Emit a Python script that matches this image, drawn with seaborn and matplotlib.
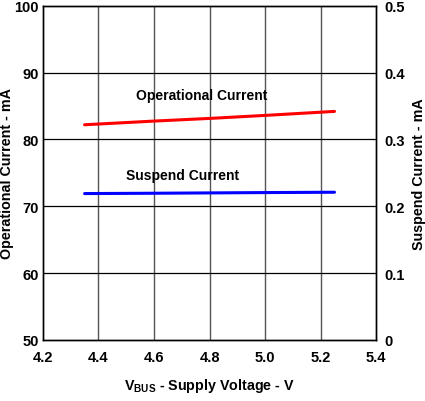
import matplotlib
matplotlib.use("Agg")
import matplotlib.pyplot as plt
import seaborn as sns
import pandas as pd

# supply voltage (V)
vbus = [4.35, 4.6, 4.8, 5.0, 5.25]
# operational current (mA), left axis
op_current = [82.2, 82.75, 83.15, 83.6, 84.2]
# suspend current (mA), right axis
susp_current = [0.219, 0.2195, 0.220, 0.2205, 0.221]

x_ticks = [4.2, 4.4, 4.6, 4.8, 5.0, 5.2, 5.4]
left_ticks = [50, 60, 70, 80, 90, 100]
right_ticks = [0, 0.1, 0.2, 0.3, 0.4, 0.5]

sns.set_style("white")
plt.rcParams['font.family'] = ['Liberation Sans', 'DejaVu Sans']
plt.rcParams['font.weight'] = 'bold'
plt.rcParams['text.color'] = 'black'
plt.rcParams['axes.labelcolor'] = 'black'
plt.rcParams['xtick.color'] = 'black'
plt.rcParams['ytick.color'] = 'black'
plt.rcParams['mathtext.fontset'] = 'custom'
plt.rcParams['mathtext.bf'] = 'Liberation Sans:bold'
plt.rcParams['mathtext.rm'] = 'Liberation Sans:bold'

df = pd.DataFrame({'vbus': vbus, 'op': op_current, 'susp': susp_current})

fig, ax = plt.subplots(figsize=(4.25, 4.02), dpi=100)
fig.subplots_adjust(left=0.101, right=0.885, top=0.983, bottom=0.152)

ax.set_xlim(4.2, 5.4)
ax.set_ylim(50, 100)
ax.set_xticks(x_ticks)
ax.set_yticks(left_ticks)
ax.set_xticklabels([f"{t:.1f}" for t in x_ticks], fontweight='bold', fontsize=10.5)
ax.set_yticklabels([str(t) for t in left_ticks], fontweight='bold', fontsize=10.5)
for t in x_ticks[1:-1]:
    ax.axvline(t, color='#555555', lw=1.0, zorder=0)
for t in left_ticks[1:-1]:
    ax.axhline(t, color='black', lw=0.9, zorder=0)

sns.lineplot(data=df, x='vbus', y='op', ax=ax, color='#ff0000', lw=2.2)
ax.set_xlabel("V$_{\\mathbf{BUS}}$ - Supply Voltage - V", fontweight='bold',
              fontsize=10.3, labelpad=9)
ax.set_ylabel("Operational Current - mA", fontweight='bold', fontsize=10.3)
ax.yaxis.set_label_coords(-0.087, 0.5)
ax.tick_params(axis='x', length=0, pad=7)
ax.tick_params(axis='y', length=0, pad=3)

ax2 = ax.twinx()
sns.lineplot(data=df, x='vbus', y='susp', ax=ax2, color='#0000ff', lw=2.2)
ax2.set_ylim(0, 0.5)
ax2.set_yticks(right_ticks)
ax2.set_yticklabels([f"{t:g}" for t in right_ticks], fontweight='bold', fontsize=10.5)
ax2.set_ylabel("Suspend Current - mA", fontweight='bold', fontsize=10.3)
ax2.yaxis.set_label_coords(1.108, 0.5)
ax2.tick_params(length=0, pad=6)

for a in (ax, ax2):
    for s in a.spines.values():
        s.set_color('black')
        s.set_linewidth(1.0)

ax.text(4.773, 86.7, "Operational Current", ha='center', va='center',
        fontweight='bold', fontsize=10)
ax.text(4.703, 74.7, "Suspend Current", ha='center', va='center',
        fontweight='bold', fontsize=10)

fig.savefig("out.png", dpi=100)
